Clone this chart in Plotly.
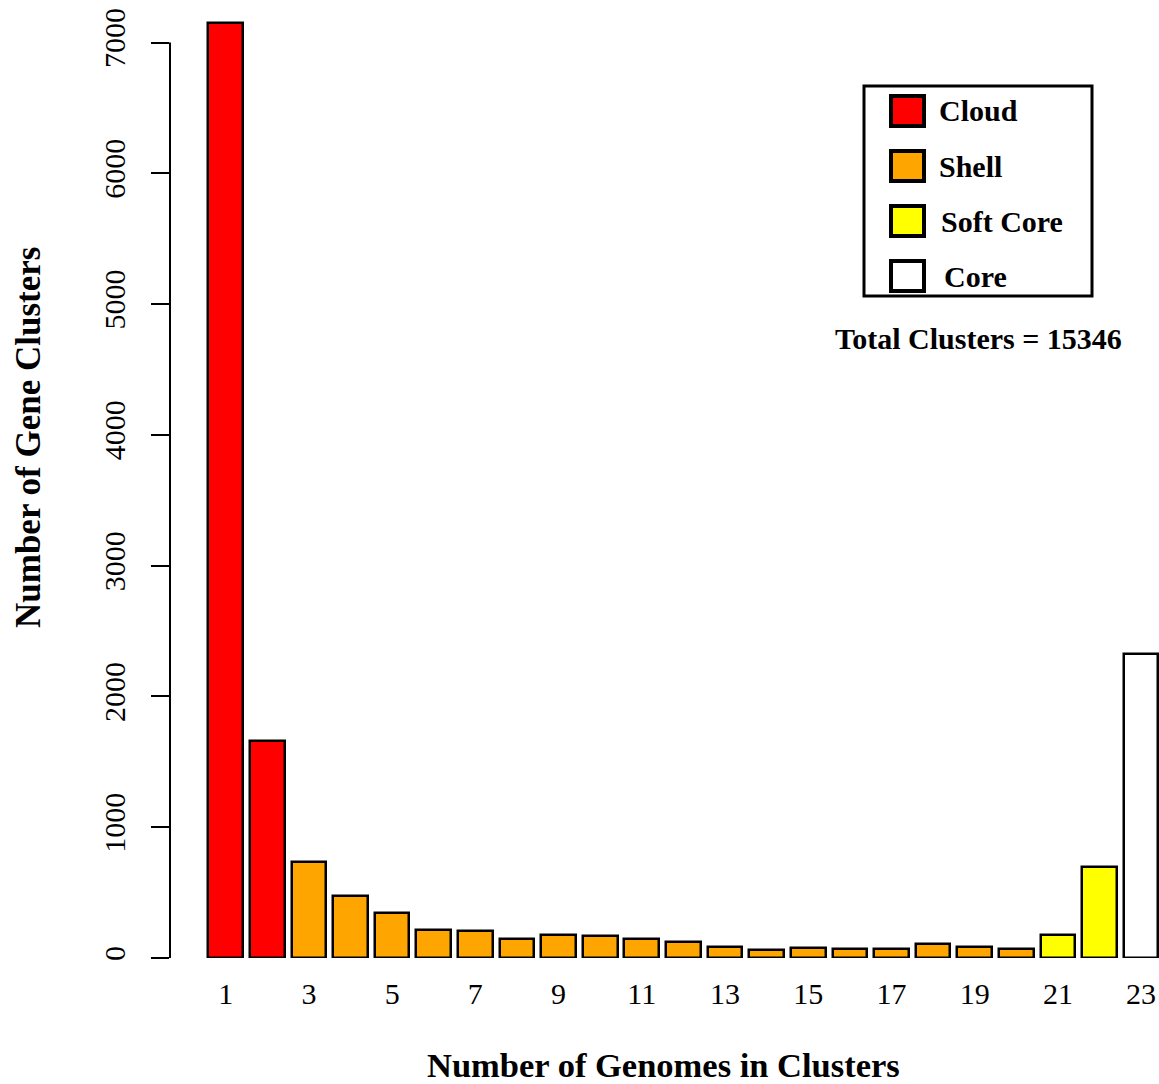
import plotly.graph_objects as go

# ---- data ----
genomes = [1, 2, 3, 4, 5, 6, 7, 8, 9, 10, 11, 12, 13, 14, 15, 16, 17, 18, 19, 20, 21, 22, 23]
clusters = [7150, 1661, 736, 472, 346, 216, 206, 143, 174, 168, 145, 122, 82, 64, 79, 69, 66, 107, 87, 71, 178, 696, 2321]
group = ["Cloud", "Cloud", "Shell", "Shell", "Shell", "Shell", "Shell", "Shell", "Shell", "Shell",
         "Shell", "Shell", "Shell", "Shell", "Shell", "Shell", "Shell", "Shell", "Shell", "Shell",
         "Soft Core", "Soft Core", "Core"]
legend_names = ["Cloud", "Shell", "Soft Core", "Core"]
legend_colors = ["#FF0000", "#FFA500", "#FFFF00", "#FFFFFF"]
x_tickvals = [1, 3, 5, 7, 9, 11, 13, 15, 17, 19, 21, 23]
y_tickvals = [0, 1000, 2000, 3000, 4000, 5000, 6000, 7000]
total_text = "Total Clusters = 15346"

color_of = dict(zip(legend_names, legend_colors))
bar_colors = [color_of[g] for g in group]

W, H = 1159, 1084
ML, MR, MT, MB = 170, 0, 10, 126
PW, PH = W - ML - MR, H - MT - MB

def px(xp):
    return (xp - ML) / PW

def py(yp):
    return (H - MB - yp) / PH

FONT = "Liberation Serif, Times New Roman, serif"

fig = go.Figure()
fig.add_trace(go.Bar(
    x=genomes, y=clusters, width=0.833,
    marker=dict(color=bar_colors, line=dict(color="black", width=2.5)),
    showlegend=False, cliponaxis=False,
))

shapes = []
annotations = []

# y axis line from 0 to 7000 only (R style)
shapes.append(dict(type="line", xref="paper", yref="y", x0=0, x1=0,
                   y0=y_tickvals[0], y1=y_tickvals[-1], line=dict(color="black", width=2)))

# legend box
shapes.append(dict(type="rect", xref="paper", yref="paper",
                   x0=px(864), x1=px(1092), y0=py(296), y1=py(86),
                   line=dict(color="black", width=3), fillcolor="rgba(0,0,0,0)"))
item_y = [111, 166, 221, 276]
text_x = [937, 937, 939, 942]
for name, col, yc, tx in zip(legend_names, legend_colors, item_y, text_x):
    shapes.append(dict(type="rect", xref="paper", yref="paper",
                       x0=px(891), x1=px(924), y0=py(yc + 15), y1=py(yc - 15),
                       line=dict(color="black", width=4), fillcolor=col))
    annotations.append(dict(xref="paper", yref="paper", x=px(tx), y=py(yc),
                            text="<b>" + name + "</b>", showarrow=False,
                            xanchor="left", yanchor="middle",
                            font=dict(family=FONT, size=30, color="black")))

annotations.append(dict(xref="paper", yref="paper", x=px(978), y=py(338),
                        text="<b>" + total_text + "</b>", showarrow=False,
                        xanchor="center", yanchor="middle",
                        font=dict(family=FONT, size=30, color="black")))

# axis titles
annotations.append(dict(xref="paper", yref="paper", x=px(663.5), y=py(1065),
                        text="<b>Number of Genomes in Clusters</b>", showarrow=False,
                        xanchor="center", yanchor="middle",
                        font=dict(family=FONT, size=34.5, color="black")))
annotations.append(dict(xref="paper", yref="paper", x=px(28), y=py(438),
                        text="<b>Number of Gene Clusters</b>", showarrow=False,
                        textangle=-90, xanchor="center", yanchor="middle",
                        font=dict(family=FONT, size=35, color="black")))

y_top = (H - MB - MT) / (958 - 42.5) * 7000

fig.update_layout(
    width=W, height=H,
    margin=dict(l=ML, r=MR, t=MT, b=MB, pad=0),
    paper_bgcolor="white", plot_bgcolor="white",
    shapes=shapes, annotations=annotations,
    font=dict(family=FONT, size=30, color="black"),
    bargap=0,
)
fig.update_xaxes(
    range=[-0.339, 23.43], showgrid=False, zeroline=False, showline=False,
    tickvals=x_tickvals, ticktext=[str(v) for v in x_tickvals],
    ticks="outside", ticklen=9, tickcolor="rgba(0,0,0,0)",
    tickfont=dict(family=FONT, size=30, color="black"),
)
fig.update_yaxes(
    range=[0, y_top], showgrid=False, zeroline=False, showline=False,
    tickvals=y_tickvals, ticktext=[str(v) for v in y_tickvals],
    ticks="outside", ticklen=18, tickwidth=2, tickcolor="black",
    tickangle=-90, ticklabelstandoff=14,
    tickfont=dict(family=FONT, size=30, color="black"),
)

fig.write_html("out.html")
